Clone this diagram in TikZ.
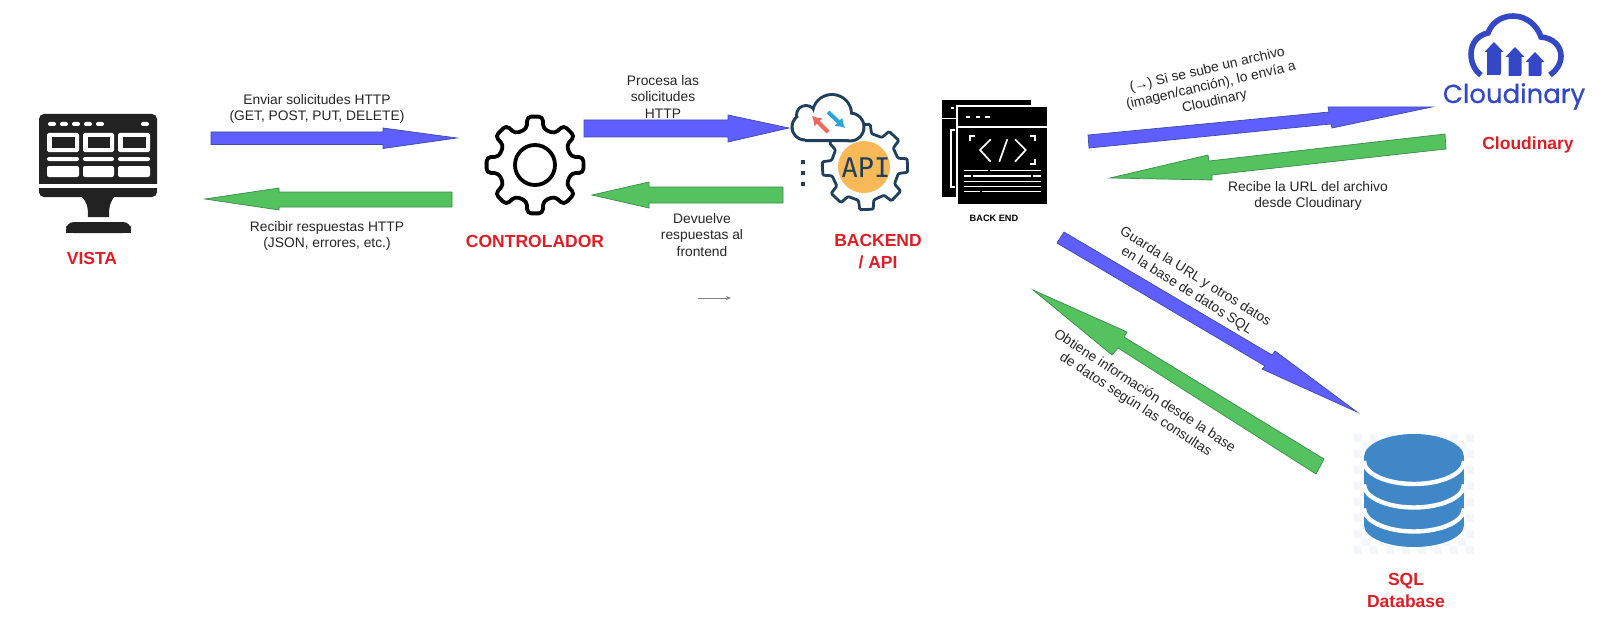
\documentclass[tikz,border=0pt]{standalone}
\usepackage{fontspec}
\setmainfont{Liberation Sans}
\newfontfamily\logofont[FakeBold=0.7]{Poppins}
\newfontfamily\apifont{DejaVu Sans Mono}
\usetikzlibrary{arrows.meta}
\definecolor{bluefill}{HTML}{5F5FFF}
\definecolor{blueedge}{HTML}{3F4AA8}
\definecolor{greenfill}{HTML}{53C25F}
\definecolor{greenedge}{HTML}{3C8A4C}
\definecolor{labelred}{HTML}{DC1F26}
\definecolor{ink}{HTML}{222222}
\definecolor{navy}{HTML}{1F3F5C}
\definecolor{apiorange}{HTML}{F9B958}
\definecolor{cldblue}{HTML}{3448C5}
\definecolor{dbblue}{HTML}{3F87C6}
\definecolor{chk}{HTML}{F5F6FA}
\definecolor{apired}{HTML}{F0685A}
\definecolor{apiblue}{HTML}{2FA4DC}
\tikzset{
  bluearrow/.style={fill=bluefill,draw=blueedge,line width=0.35pt,line join=miter},
  greenarrow/.style={fill=greenfill,draw=greenedge,line width=0.35pt,line join=miter},
  caption/.style={inner sep=0pt,align=center,font=\fontsize{6.9}{8.2}\selectfont,text=black!85},
  titlelabel/.style={inner sep=0pt,align=center,font=\fontsize{8.75}{11}\selectfont\bfseries,text=labelred},
  thinwhite/.style={draw=white,line width=0.75pt,line cap=butt},
}
\newcommand\mkgear[5]{% cx cy Ro Ri offset
  \gdef\gearpts{}%
  \foreach \k in {0,...,7}{%
    \pgfmathsetmacro\gang{#5+45*\k}%
    \pgfmathsetmacro\xa{#1+#4*cos(\gang-13)}\pgfmathsetmacro\ya{#2+#4*sin(\gang-13)}%
    \pgfmathsetmacro\xb{#1+#3*cos(\gang-9)}\pgfmathsetmacro\yb{#2+#3*sin(\gang-9)}%
    \pgfmathsetmacro\xc{#1+#3*cos(\gang+9)}\pgfmathsetmacro\yc{#2+#3*sin(\gang+9)}%
    \pgfmathsetmacro\xd{#1+#4*cos(\gang+13)}\pgfmathsetmacro\yd{#2+#4*sin(\gang+13)}%
    \xdef\gearpts{\gearpts (\xa,\ya) -- (\xb,\yb) -- (\xc,\yc) -- (\xd,\yd) -- }%
  }%
}
\newcommand\cldarrow[4]{% centre x, top y, stem half width, bottom y
  \fill[cldblue] (#1,#2) -- (#1+9.5,#2+10) -- (#1+#3,#2+10) -- (#1+#3,#4-2) -- (#1+#3-1,#4) -- (#1-#3,#4) -- (#1-#3,#2+10) -- (#1-9.5,#2+10) -- cycle;
}
\begin{document}
\begin{tikzpicture}[x=0.5pt,y=-0.5pt]
\useasboundingbox (0,0) rectangle (1600,626);
\fill[white] (0,0) rectangle (1600,626);

% ---------- VISTA monitor
\fill[ink,rounded corners=2.5pt] (39,200) -- (39,114) -- (157,114) -- (157,200) -- cycle;
\fill[white] (38,184) rectangle (158,188);
\fill[white] (38,190) rectangle (158,201);
\fill[ink,rounded corners=2.5pt] (39,188) -- (39,197) -- (157,197) -- (157,188) -- cycle;
\fill[ink] (39,188) rectangle (157,192);
\fill[ink] (81,196) .. controls (87,202) and (88,206) .. (88,217) -- (109,217) .. controls (109,206) and (110,202) .. (115,196) -- cycle;
\fill[ink,rounded corners=4pt] (66,233) -- (66,222) -- (131,222) -- (131,233) -- cycle;
\fill[ink] (66,229) rectangle (131,233);
\foreach \dx in {52,64,76,88,100,145}
  \fill[white,rounded corners=1pt] (\dx-4,122) rectangle (\dx+4,126);
\foreach \px/\pw in {47/32,83/31,118/32}{
  \fill[white,rounded corners=0.8pt] (\px,133) rectangle (\px+\pw,152);
  \fill[ink] (\px+4.5,137) rectangle (\px+\pw-4.5,148);
  \fill[white,rounded corners=1pt] (\px,157) rectangle (\px+\pw,161);
  \fill[white,rounded corners=1pt] (\px,166) rectangle (\px+\pw,177);
}
\node[titlelabel] (vista) at (92,258) {VISTA};

% ---------- first pair of arrows
\path[bluearrow] (211,132) -- (383,132) -- (383,128) -- (457,138) -- (383,148.5) -- (383,144.5) -- (211,144.5) -- cycle;
\path[greenarrow] (452,192) -- (279,192) -- (279,188) -- (205,199) -- (279,210) -- (279,207) -- (452,207) -- cycle;
\node[caption] (enviar) at (317,109) {Enviar solicitudes HTTP\\(GET, POST, PUT, DELETE)};
\node[caption] (recibir) at (327,236) {Recibir respuestas HTTP\\(JSON, errores, etc.)};

% ---------- controller gear
\mkgear{535}{165}{49}{37}{0}
\draw[draw=black,fill=white,line width=1.9pt,rounded corners=2pt,line join=round] \gearpts cycle;
\draw[black,line width=1.9pt] (535,165) circle[radius=10pt];
\node[titlelabel] (controlador) at (535,241) {CONTROLADOR};

% ---------- second pair of arrows
\path[bluearrow] (584,120) -- (728,120) -- (728,115) -- (789,128) -- (728,142) -- (728,137) -- (584,137) -- cycle;
\path[greenarrow] (783,187) -- (649,187) -- (649,182) -- (592,195) -- (649,208) -- (649,203) -- (783,203) -- cycle;
\node[caption] (procesa) at (663,97) {Procesa las\\solicitudes\\HTTP};
\node[caption] (devuelve) at (702,235) {Devuelve\\respuestas al\\frontend};
\coordinate (miniA) at (698,298);
\coordinate (miniB) at (731,298);
\draw[black!50,line width=0.35pt,-{Stealth[length=2.5pt,width=2pt]}] (miniA) -- (miniB);

% ---------- API gear + cloud
\mkgear{865}{167}{43}{34}{-2}
\draw[draw=navy,fill=white,line width=1.4pt,rounded corners=0.6pt,line join=round] \gearpts cycle;
\fill[apiorange] (864,167) circle[radius=13pt];
\node[inner sep=0pt,text=navy,font=\fontsize{13.5}{15}\apifont] (apitxt) at (866,168) {API};
\fill[navy] (805,127) circle[radius=7.25pt] (806,115) circle[radius=5.5pt] (832,114) circle[radius=10.5pt] (850,127) circle[radius=7.75pt] (805,118) rectangle (850,142);
\fill[white] (805,127) circle[radius=5.75pt] (806,115) circle[radius=4pt] (832,114) circle[radius=9pt] (850,127) circle[radius=6.25pt] (805,118) rectangle (850,139);
\draw[-{Latex[length=4.5pt,width=6pt]},line width=2pt,color=apired] (828,132) -- (812,116);
\draw[-{Latex[length=4.5pt,width=6pt]},line width=2pt,color=apiblue] (828,112) -- (845,128);
\foreach \dy in {162,173,184}
  \fill[navy] (801,\dy-2.2) rectangle (805.4,\dy+2.2);
\node[titlelabel] (backend) at (878,252) {BACKEND\\/ API};

% ---------- BACK END icon
\fill[black] (942,100) rectangle (1031,197);
\fill[white] (942,118) rectangle (958,119);
\fill[white] (951,107.5) rectangle (954,108.7);
\draw[thinwhite] (955,130) -- (951,130) -- (951,187) -- (955,187);
\fill[white] (955.5,105) rectangle (1050,207);
\fill[black] (958,107) rectangle (1047,204);
\draw[thinwhite] (958,127) -- (1047,127);
\foreach \ax/\bx in {966/970,976/980,985/990}
  \draw[thinwhite] (\ax,117) -- (\bx,117);
\draw[thinwhite] (975,136) -- (970,136) -- (970,141);
\draw[thinwhite] (1030,136) -- (1035,136) -- (1035,141);
\draw[thinwhite] (1035,159) -- (1035,164) -- (1030,164);
\draw[white,line width=0.85pt] (990.7,139.3) -- (980,150) -- (990.7,161.7);
\draw[white,line width=0.85pt] (1007.3,139.3) -- (999.3,161.7);
\draw[white,line width=0.85pt] (1015,139.3) -- (1025.7,150) -- (1015,161.7);
\foreach \ly/\la/\lb in {170.7/964/988,170.7/990/1041,176/964/971,176/973/1031,176/1033/1041,181.7/964/1041,186.7/964/1041,191.7/964/980,191.7/982/1041}
  \draw[thinwhite] (\la,\ly) -- (\lb,\ly);
\node[inner sep=0pt,font=\fontsize{4.6}{6}\selectfont\bfseries,text=black] (backendtxt) at (994,218) {BACK END};

% ---------- Cloudinary arrows
\path[bluearrow] (1088,135) -- (1329,112) -- (1328,107) -- (1432,107) -- (1332,128) -- (1331,124) -- (1089,148) -- cycle;
\path[greenarrow] (1445,134) -- (1209,161) -- (1208,155) -- (1110,178) -- (1212,180) -- (1212,175) -- (1446,149) -- cycle;
\node[caption,rotate=13] (sube) at (1211,86) {(→) Si se sube un archivo\\(imagen/canción), lo envía a\\Cloudinary};
\node[caption] (recibe) at (1308,196) {Recibe la URL del archivo\\desde Cloudinary};

% ---------- Cloudinary logo
\draw[cldblue,line width=2.8pt,line cap=butt] (1481,75) .. controls (1475,71) and (1471,63) .. (1471,54) .. controls (1471,43) and (1478,35) .. (1488,33) .. controls (1492,22) and (1502,16) .. (1513,16) .. controls (1526,16) and (1537,25) .. (1541,37) .. controls (1553,38) and (1561,46) .. (1561,56) .. controls (1561,64) and (1556,71) .. (1550,75);
\cldarrow{1494}{42}{7}{75}
\cldarrow{1515}{47}{6.5}{76}
\cldarrow{1535}{52}{6.5}{76}
\node[inner sep=0pt,anchor=base,text=cldblue,font=\fontsize{13}{15}\logofont] (cldlogo) at (1514,103) {Cloudinary};
\node[titlelabel] (cldlabel) at (1528,145) {Cloudinary};

% ---------- SQL arrows
\path[bluearrow] (1064,232) -- (1272,355) -- (1275,351) -- (1357,412) -- (1262,369) -- (1265,366) -- (1057,243) -- cycle;
\path[greenarrow] (1033,290) -- (1127,332) -- (1124,337) -- (1324,459) -- (1316,474) -- (1118,348) -- (1112,355) -- cycle;
\node[caption,rotate=-32] (guarda) at (1191,284) {Guarda la URL y otros datos\\en la base de datos SQL};
\node[caption,rotate=-33] (obtiene) at (1140,398) {Obtiene información desde la base\\de datos según las consultas};

% ---------- database
\foreach \i in {0,...,14}
  \foreach \j in {0,...,14}{
    \pgfmathtruncatemacro\chkodd{mod(\i+\j,2)}
    \ifnum\chkodd=0
      \fill[chk] (1354+8*\i,434+8*\j) rectangle ++(8,8);
    \fi
  }
\fill[dbblue] (1364,457) rectangle (1464,525);
\fill[dbblue] (1414,457) ellipse[x radius=25pt,y radius=11.5pt];
\fill[dbblue] (1414,525) ellipse[x radius=25pt,y radius=11pt];
\foreach \cy in {461,484.5,508.5}
  \draw[white,line width=2.2pt] (1364,\cy) arc[start angle=180,end angle=360,x radius=25pt,y radius=11.5pt];
\node[titlelabel] (sqllabel) at (1406,590) {SQL\\Database};
\end{tikzpicture}
\end{document}
